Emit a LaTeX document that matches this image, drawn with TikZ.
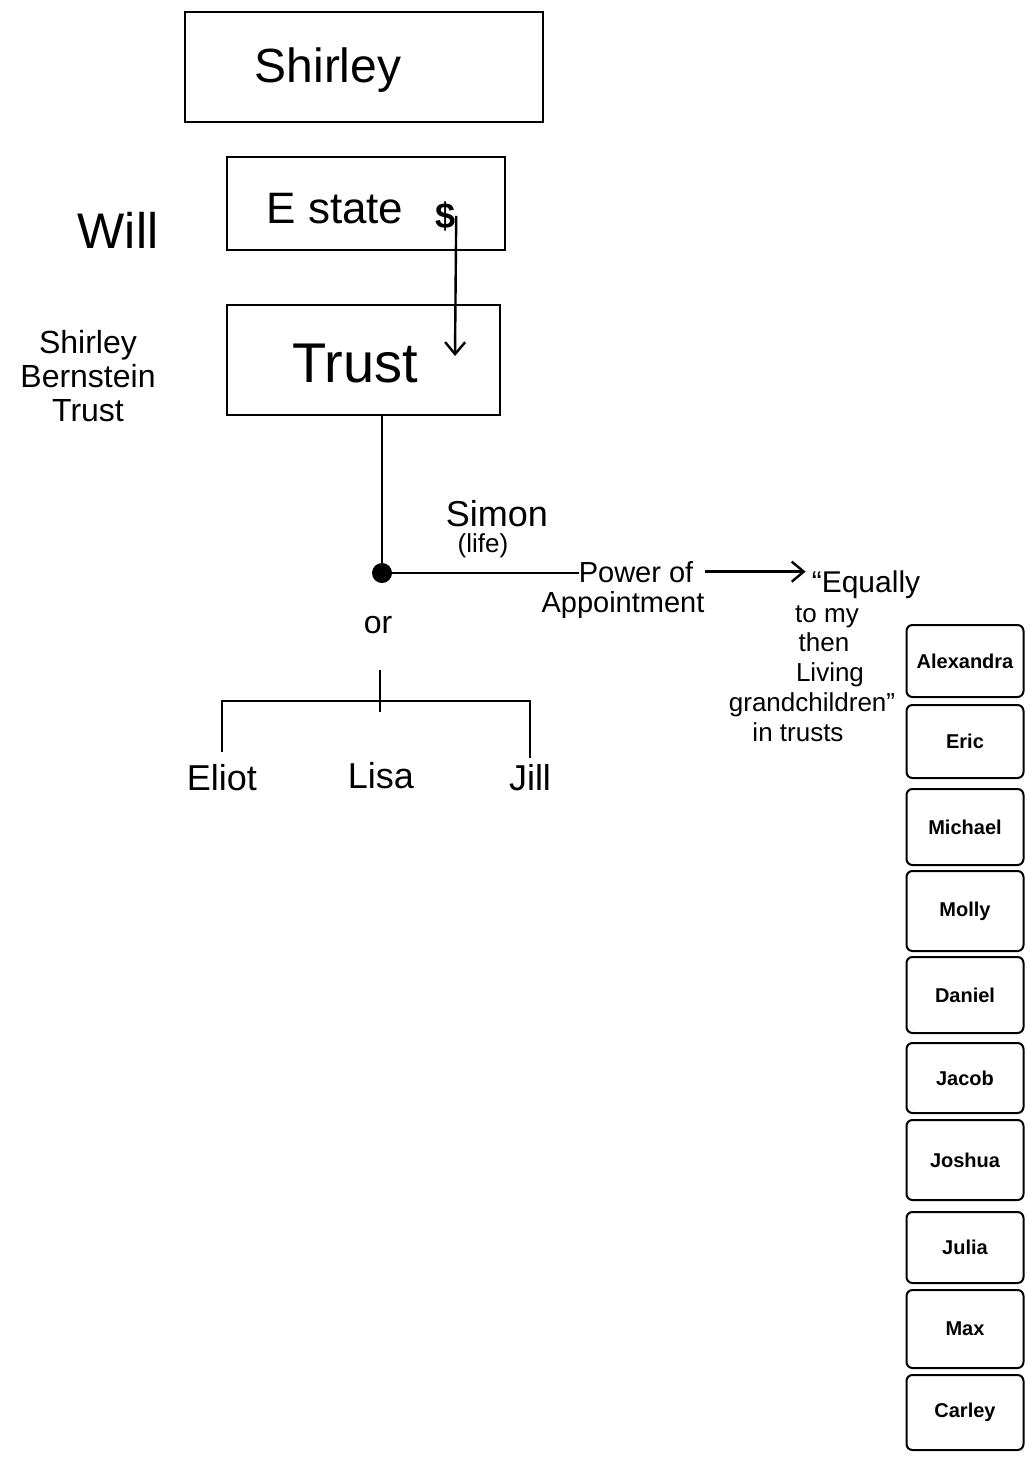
\documentclass[tikz,border=0pt]{standalone}
\usepackage{fontspec}
\setmainfont{Liberation Sans}
\usetikzlibrary{arrows.meta,calc}
\newcommand\fsz[2]{\fontsize{#1}{#2}\selectfont}
\tikzset{
  box/.style={draw, line width=2.4pt, inner sep=0pt},
  kid/.style={draw, line width=2pt, rounded corners=6pt, minimum width=117pt, inner sep=0pt, font=\fsz{20}{24}\bfseries},
  lbl/.style={inner sep=0pt, anchor=base},
  conn/.style={line width=2.4pt},
  barb/.style={-{Straight Barb[length=12pt,width=20pt,line width=2.4pt]}}
}
\begin{document}
\begin{tikzpicture}[x=1pt,y=-1pt]
\useasboundingbox (0,0) rectangle (1026,1459);
% top boxes
\node[box, minimum width=358pt, minimum height=110pt] (shirleybox) at (364,67) {};
\node[lbl, font=\fsz{48}{56}] (shirley) at (328,82) {Shirley};
\node[box, minimum width=278pt, minimum height=93pt] (estatebox) at (366,203.5) {};
\node[lbl, font=\fsz{44}{50}] (estate) at (335,223) {E state};
\node[lbl, font=\fsz{36}{40}\bfseries] (dollar) at (446,228) {\$};
\node[box, minimum width=273pt, minimum height=110pt] (trustbox) at (363.5,360) {};
\node[lbl, font=\fsz{56}{64}] (trust) at (355,382) {Trust};
\coordinate (dollartip) at (455,356);
\draw[conn, barb] (dollar.east) -- (dollartip);
% side labels
\node[lbl, font=\fsz{50}{56}] (will) at (118,248) {Will};
\node[inner sep=0pt, align=center, font=\fsz{32}{34}] (sbt) at (88,376) {Shirley\\Bernstein\\Trust};
% dot and branches
\node[circle, fill, minimum size=20pt, inner sep=0pt] (dot) at (382,573) {};
\draw[conn] (trustbox.south -| dot) -- (dot);
\node[lbl, font=\fsz{36}{40}] (simon) at (497,526) {Simon};
\node[lbl, font=\fsz{26}{30}] (life) at (483,552) {(life)};
\node[lbl, font=\fsz{29}{32}] (power) at (636,582) {Power of};
\node[lbl, font=\fsz{29}{32}] (appoint) at (623,612) {Appointment};
\draw[conn] (dot) -- (dot -| power.west);
\node[lbl, font=\fsz{30}{34}] (equally) at (866,592) {“Equally};
\draw[conn, barb, shorten <=12pt, shorten >=6pt] (power.east) -- (power.east -| equally.west);
\node[lbl, font=\fsz{26}{30}] (tomy) at (827,622) {to my};
\node[lbl, font=\fsz{26}{30}] (then) at (824,651) {then};
\node[lbl, font=\fsz{26}{30}] (living) at (830,681) {Living};
\node[lbl, font=\fsz{26}{30}] (grand) at (812,711) {grandchildren”};
\node[lbl, font=\fsz{26}{30}] (intrusts) at (798,741) {in trusts};
% or branch
\node[lbl, font=\fsz{32}{36}] (or) at (378,633) {or};
\node[lbl, font=\fsz{36}{40}] (eliot) at (222,790) {Eliot};
\node[lbl, font=\fsz{36}{40}] (lisa) at (381,788) {Lisa};
\node[lbl, font=\fsz{36}{40}] (jill) at (530,790) {Jill};
\coordinate (ticktop) at (380,670);
\coordinate (tickbot) at (380,712);
\coordinate (jmid) at (380,701);
\draw[conn] (ticktop) -- (tickbot);
\draw[conn, shorten <=12pt, shorten >=6pt] (eliot.north) |- (jmid) -| (jill.north);
% grandchildren boxes
\foreach \n/\c/\h in {Alexandra/661/72, Eric/741.5/73, Michael/827/76, Molly/911/80, Daniel/995/76, Jacob/1078/70, Joshua/1160/80, Julia/1247.5/71, Max/1329/78, Carley/1412.5/75}
  \node[kid, minimum height=\h pt] (k\n) at (965,\c) {\n};
\end{tikzpicture}
\end{document}
